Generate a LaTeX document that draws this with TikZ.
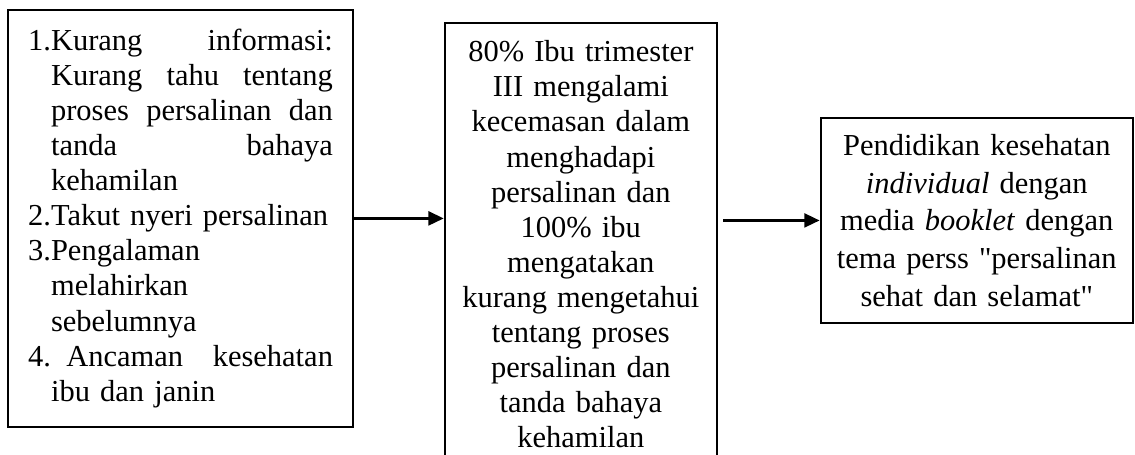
\documentclass[tikz,border=0pt]{standalone}
\usepackage{fontspec}
\setmainfont{Liberation Serif}
\usetikzlibrary{arrows.meta}
\newcommand{\gantung}{\hspace*{9pt}}
\begin{document}
\begin{tikzpicture}[x=1pt,y=1pt,font=\fontsize{12}{13.8}\selectfont,
  kotak/.style={draw,line width=0.9pt,inner sep=0pt},
  panah/.style={line width=0.9pt,-{Triangle[length=6pt,width=5.5pt]}}]
\useasboundingbox (0,0) rectangle (446.9,179.1);
\node[kotak,minimum width=135.8pt,minimum height=164.2pt,text width=120pt,align=left] (faktor) at (71.1,93.1)
{1.Kurang\hfill informasi:\\
\gantung Kurang\hfill tahu\hfill tentang\\
\gantung proses\hfill persalinan\hfill dan\\
\gantung tanda\hfill bahaya\\
\gantung kehamilan\\
2.Takut nyeri persalinan\\
3.Pengalaman\\
\gantung melahirkan\\
\gantung sebelumnya\\
4. Ancaman\hfill kesehatan\\
\gantung ibu dan janin};
\node[kotak,anchor=north,minimum width=107.1pt,text width=100pt,align=center,inner ysep=7pt] (kondisi) at (228.7,170.5)
{80\% Ibu trimester\\ III mengalami\\ kecemasan dalam\\ menghadapi\\ persalinan dan\\ 100\% ibu\\ mengatakan\\
kurang mengetahui\\ tentang proses\\ persalinan dan\\ tanda bahaya\\ kehamilan};
\node[kotak,minimum width=122.9pt,minimum height=80.7pt,text width=115pt,align=center,font=\fontsize{12}{14.8}\selectfont] (hasil) at (384.6,92.3)
{Pendidikan kesehatan\\ \textit{individual} dengan\\ media \textit{booklet} dengan\\ tema perss \textquotedbl persalinan\\ sehat dan selamat\textquotedbl};
\draw[panah] (faktor.east) -- (faktor.east -| kondisi.west);
\draw[panah,shorten <=2pt] (kondisi.east |- hasil.west) -- (hasil.west);
\end{tikzpicture}
\end{document}
